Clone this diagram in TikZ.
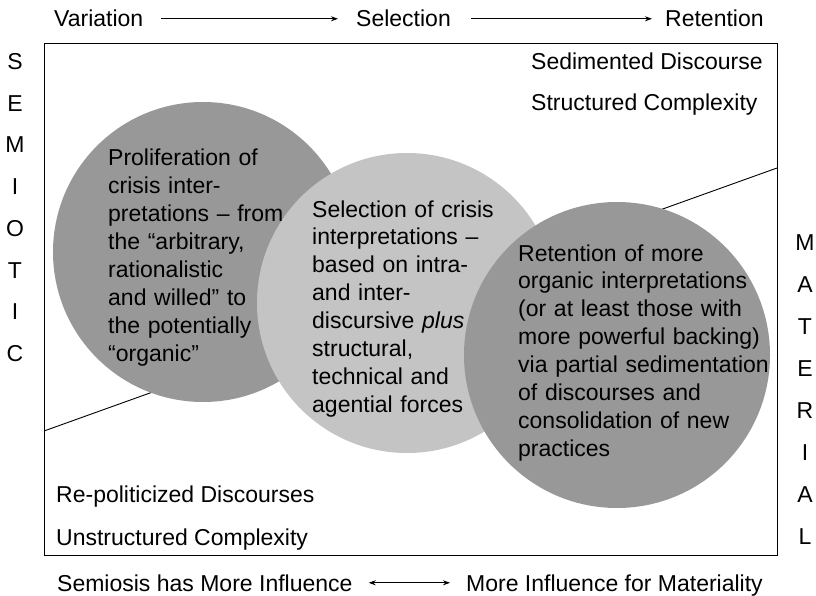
\documentclass[tikz,border=0pt]{standalone}
\usepackage{fontspec}
\setmainfont{Liberation Sans}
\usetikzlibrary{arrows.meta}
\definecolor{darkc}{RGB}{152,152,152}
\definecolor{lightc}{RGB}{196,196,196}
\begin{document}
\begin{tikzpicture}[x=1pt,y=-1pt,
  lbl/.style={font=\fontsize{23}{28}\selectfont, inner sep=0pt, anchor=base west},
  ltr/.style={font=\fontsize{23}{28}\selectfont, inner sep=0pt, anchor=base},
  ctext/.style={font=\fontsize{23}{27.9}\selectfont, inner sep=0pt, anchor=base west, align=left, text width=275pt},
  disc/.style={circle, inner sep=0pt, minimum size=#1},
  arr/.style={-{Stealth[length=7pt,width=5pt]}, line width=0.9pt},
  darr/.style={{Stealth[length=7pt,width=5pt]}-{Stealth[length=7pt,width=5pt]}, line width=0.9pt}]
\useasboundingbox (0,0) rectangle (816,596);
\fill[white] (0,0) rectangle (816,596);
% frame
\draw[line width=1pt] (44,44) rectangle (777,555);
% diagonal
\coordinate (dl) at (44,431);
\coordinate (dr) at (777,168);
\draw[line width=0.9pt] (dl) -- (dr);
% circles
\node[disc=300pt, fill=darkc] (c1) at (203,252) {};
\node[disc=300pt, fill=lightc] (c2) at (407,303) {};
\node[disc=306pt, fill=darkc] (c3) at (617,355) {};
% circle texts
\node[ctext] (t1) at (108,166) {Proliferation of\\crisis inter-\\pretations – from\\the “arbitrary,\\rationalistic\\and willed” to\\the potentially\\“organic”};
\node[ctext] (t2) at (312,217) {Selection of crisis\\interpretations –\\based on intra-\\and inter-\\discursive \textit{plus}\\structural,\\technical and\\agential forces};
\node[ctext] (t3) at (518,261) {Retention of more\\organic interpretations\\(or at least those with\\more powerful backing)\\via partial sedimentation\\of discourses and\\consolidation of new\\practices};
% top row
\node[lbl] (var) at (54,27) {Variation};
\node[lbl] (sel) at (356,27) {Selection};
\node[lbl] (ret) at (665,27) {Retention};
\draw[arr, shorten <=18pt, shorten >=18pt] (var) -- (sel);
\draw[arr, shorten <=20pt, shorten >=13pt] (sel) -- (ret);
% corner labels
\node[lbl] (sed) at (531,70) {Sedimented Discourse};
\node[lbl] (stc) at (531,111) {Structured Complexity};
\node[lbl] (rep) at (56,502) {Re-politicized Discourses};
\node[lbl] (unc) at (56,545) {Unstructured Complexity};
% side letters
\foreach \l [count=\i] in {S,E,M,I,O,T,I,C}
  \node[ltr] (sem\i) at ({15},{69.5+41.7*(\i-1)}) {\l};
\foreach \l [count=\i] in {M,A,T,E,R,I,A,L}
  \node[ltr] (mat\i) at ({805},{250.5+42*(\i-1)}) {\l};
% bottom row
\node[lbl] (semi) at (57,591) {Semiosis has More Influence};
\node[lbl] (matl) at (466,591) {More Influence for Materiality};
\draw[darr] ([xshift=16pt]semi.east) -- ([xshift=-16pt]semi.east -| matl.west);
\end{tikzpicture}
\end{document}
